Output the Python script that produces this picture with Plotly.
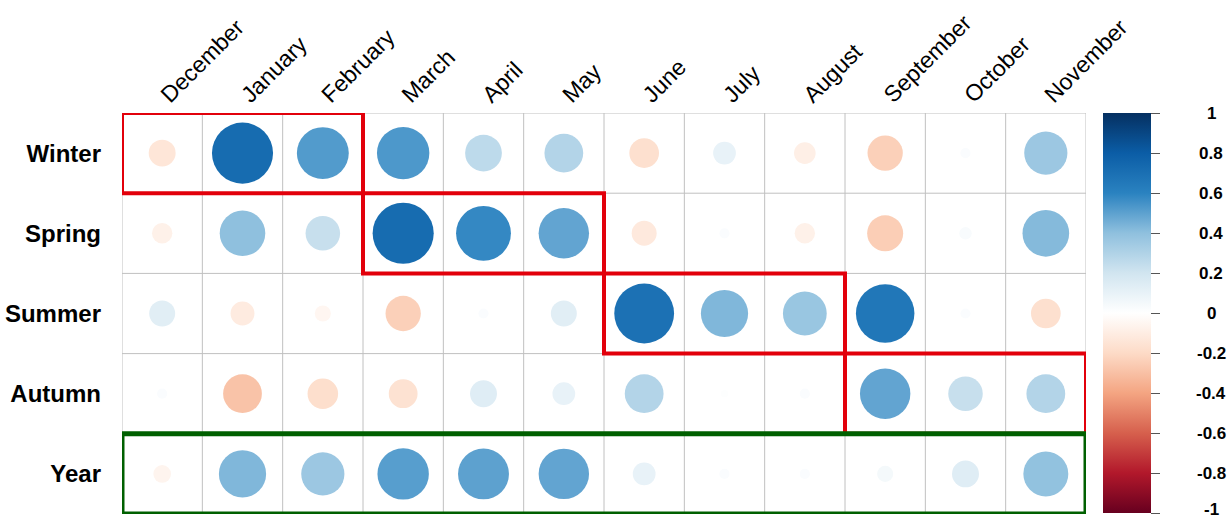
import plotly.graph_objects as go

# ---------------- data ----------------
months = ["December", "January", "February", "March", "April", "May",
          "June", "July", "August", "September", "October", "November"]
seasons = ["Winter", "Spring", "Summer", "Autumn", "Year"]

winter = [-0.14, 0.72, 0.52, 0.53, 0.26, 0.29, -0.17, 0.10, -0.09, -0.24, 0.02, 0.36]
spring = [-0.08, 0.40, 0.23, 0.72, 0.58, 0.49, -0.12, 0.02, -0.08, -0.25, 0.03, 0.42]
summer = [0.13, -0.11, -0.05, -0.24, 0.02, 0.13, 0.69, 0.43, 0.37, 0.66, 0.02, -0.17]
autumn = [0.02, -0.29, -0.18, -0.16, 0.14, 0.10, 0.29, 0.01, 0.02, 0.49, 0.23, 0.29]
year = [-0.06, 0.43, 0.36, 0.51, 0.50, 0.49, 0.10, 0.02, 0.02, 0.05, 0.14, 0.39]
values = [winter, spring, summer, autumn, year]

# highlighted blocks: (row, first month, last month)
red_blocks = [("Winter", "December", "February"),
              ("Spring", "March", "May"),
              ("Summer", "June", "August"),
              ("Autumn", "September", "November")]
green_blocks = [("Year", "December", "November")]

cbar_ticks = [1, 0.8, 0.6, 0.4, 0.2, 0, -0.2, -0.4, -0.6, -0.8, -1]

# ---------------- styling ----------------
colorscale = [[0.0, "#67001F"], [0.1, "#B2182B"], [0.2, "#D6604D"],
              [0.3, "#F4A582"], [0.4, "#FDDBC7"], [0.5, "#FFFFFF"],
              [0.6, "#D1E5F0"], [0.7, "#8FC0DE"], [0.8, "#2A82C0"],
              [0.9, "#0B5DA6"], [1.0, "#053061"]]
FONT = "Liberation Sans, Arial, sans-serif"
W, H = 1229, 521
ML, MR, MT, MB = 122, 143, 113, 7
MAXD = 72  # diameter of a |r|=1 circle in px

xs, ys, cs, ss = [], [], [], []
for i, s in enumerate(seasons):
    for j, m in enumerate(months):
        v = values[i][j]
        xs.append(m)
        ys.append(s)
        cs.append(v)
        ss.append(MAXD * abs(v) ** 0.5)

fig = go.Figure()
fig.add_trace(go.Scatter(
    x=xs, y=ys, mode="markers",
    marker=dict(size=ss, color=cs, colorscale=colorscale, cmin=-1, cmax=1,
                opacity=1, line=dict(width=0),
                colorbar=dict(thickness=48, thicknessmode="pixels",
                              len=400, lenmode="pixels",
                              x=(1103 - ML) / (W - ML - MR), xanchor="left", xpad=0,
                              y=0.5, yanchor="middle", ypad=0,
                              outlinewidth=0,
                              tickmode="array", tickvals=cbar_ticks,
                              ticks="outside", ticklen=9, tickcolor="#555555",
                              showticklabels=False)),
    hoverinfo="skip", showlegend=False))

shapes = []
# grid
for k in range(len(months) + 1):
    shapes.append(dict(type="line", xref="x", yref="y", x0=k - 0.5, x1=k - 0.5,
                       y0=-0.5, y1=len(seasons) - 0.5,
                       line=dict(color="#c0c0c0", width=1), layer="below"))
for k in range(len(seasons) + 1):
    shapes.append(dict(type="line", xref="x", yref="y", x0=-0.5, x1=len(months) - 0.5,
                       y0=k - 0.5, y1=k - 0.5,
                       line=dict(color="#c0c0c0", width=1), layer="below"))
# highlight boxes
for blocks, col, wd in ((red_blocks, "#E2000B", 4), (green_blocks, "#006000", 5)):
    for row, m0, m1 in blocks:
        r = seasons.index(row)
        a, b = months.index(m0), months.index(m1)
        shapes.append(dict(type="rect", xref="x", yref="y",
                           x0=a - 0.5, x1=b + 0.5, y0=r - 0.5, y1=r + 0.5,
                           line=dict(color=col, width=wd), fillcolor="rgba(0,0,0,0)",
                           layer="above"))

annotations = []
for t in cbar_ticks:
    annotations.append(dict(xref="paper", yref="paper",
                            x=(1211 - ML) / (W - ML - MR), y=(t + 1) / 2,
                            text=("%g" % t), showarrow=False,
                            xanchor="center", yanchor="middle",
                            yshift=(5 if t == -1 else 0),
                            font=dict(family=FONT, size=17, color="black", weight="bold")))

fig.update_layout(
    width=W, height=H,
    margin=dict(l=ML, r=MR, t=MT, b=MB, pad=0, autoexpand=False),
    paper_bgcolor="white", plot_bgcolor="white",
    shapes=shapes, annotations=annotations,
    xaxis=dict(type="category", categoryorder="array", categoryarray=months,
               range=[-0.5, len(months) - 0.5], side="top", tickangle=-45,
               showgrid=False, zeroline=False, showline=False, ticks="",
               tickfont=dict(family=FONT, size=23, color="black"),
               automargin=False, fixedrange=True),
    yaxis=dict(type="category", categoryorder="array", categoryarray=seasons,
               range=[len(seasons) - 0.5, -0.5],
               showgrid=False, zeroline=False, showline=False, ticks="",
               ticklabelstandoff=20,
               tickfont=dict(family=FONT, size=24, color="black", weight="bold"),
               automargin=False, fixedrange=True),
)

fig.write_html("out.html", config={"displayModeBar": False})
